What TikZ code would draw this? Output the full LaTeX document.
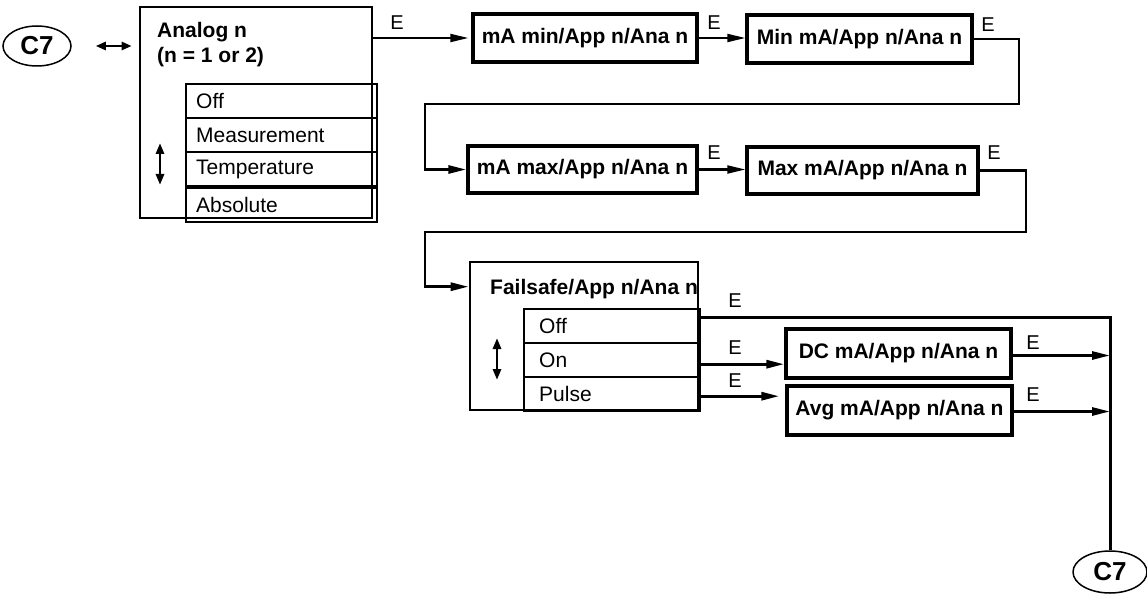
\documentclass[tikz,border=0pt]{standalone}
\usepackage{fontspec}
\setmainfont{Liberation Sans}
\usetikzlibrary{calc,arrows.meta,shapes.geometric}
\tikzset{
  frame/.style={draw, line width=2.6pt, inner sep=0pt},
  box/.style={draw, line width=3.4pt, inner sep=0pt, minimum height=48pt, font=\fontsize{21}{25}\selectfont\bfseries},
  row/.style={draw, line width=2.4pt, anchor=north west, minimum height=34pt, inner ysep=0pt, align=left, font=\fontsize{21}{25}\selectfont},
  title/.style={anchor=base west, inner sep=0pt, font=\fontsize{21}{25}\selectfont\bfseries},
  conn/.style={ellipse, draw, line width=1.5pt, inner sep=0pt, font=\fontsize{26}{30}\selectfont\bfseries},
  elab/.style={inner sep=0pt, font=\fontsize{20}{22}\selectfont},
  flow/.style={line width=2.8pt, -{Triangle[length=18pt,width=8pt]}},
  updown/.style={line width=2.8pt, {Triangle[length=11pt,width=8pt]}-{Triangle[length=11pt,width=8pt]}}
}
\begin{document}
\begin{tikzpicture}[x=1pt, y=-1pt]
\useasboundingbox (0,0) rectangle (1147,596);
\node[conn, minimum width=68pt, minimum height=40pt] (c7a) at (37,46) {C7};
\node[frame, minimum width=232pt, minimum height=211pt] (ana) at (256,112.5) {};
\node[title] (anat1) at (157,38) {Analog n}; \node[title] (anat2) at (157,63) {(n = 1 or 2)};
\node[row, text width=171pt, inner xsep=10pt] (aoff) at (185,83) {Off};
\node[row, text width=171pt, inner xsep=10pt] (ameas) at (185,117) {Measurement};
\node[row, text width=171pt, inner xsep=10pt] (atemp) at (185,151) {Temperature};
\node[row, text width=171pt, inner xsep=10pt] (aabs) at (185,187) {Absolute};
\draw[updown] (160,143) -- (160,185);
\draw[line width=2.6pt, {Triangle[length=10pt,width=8pt]}-{Triangle[length=10pt,width=8pt]}, shorten <=24pt, shorten >=7pt] (c7a.east) -- (c7a.east -| ana.west);
\node[box, minimum width=224pt] (mamin) at (585,38) {mA min/App n/Ana n};
\node[box, minimum width=225pt] (minma) at (859.5,39) {Min mA/App n/Ana n};
\node[box, minimum width=229pt, minimum height=47pt] (mamax) at (582.5,169.5) {mA max/App n/Ana n};
\node[box, minimum width=231pt, minimum height=47pt] (maxma) at (862.5,170.5) {Max mA/App n/Ana n};
\node[frame, minimum width=228pt, minimum height=148pt] (fail) at (584,336) {};
\begin{scope} \clip (fail.south west) rectangle (fail.north east); \node[title] (failt) at (490,294) {Failsafe/App n/Ana n}; \end{scope}
\node[row, text width=146pt, inner xsep=15pt] (foff) at (523,308) {Off};
\node[row, text width=146pt, inner xsep=15pt] (fon) at (523,342) {On};
\node[row, text width=146pt, inner xsep=15pt] (fpulse) at (523,376) {Pulse};
\draw[updown] (497,338) -- (497,380);
\node[box, minimum width=225pt, minimum height=49pt] (dc) at (898.5,353.5) {DC mA/App n/Ana n};
\node[box, minimum width=225pt, minimum height=49pt] (avg) at (899.5,410.5) {Avg mA/App n/Ana n};
\node[conn, minimum width=74pt, minimum height=42pt] (c7b) at (1110,572) {C7};
\coordinate (t1) at (1019,104); \coordinate (t2) at (425,104); \coordinate (t3) at (1026,232); \coordinate (t4) at (425,232);
\draw[flow, line width=2pt, shorten >=3pt] (ana.east |- mamin) -- (mamin.west); \node[elab] (e1) at (397,23) {E};
\draw[flow, line width=2.2pt] (mamin.east) -- (mamin.east -| minma.west); \node[elab] (e2) at (714,23) {E};
\draw[flow] (minma.east) -| (t1) -- (t2) |- (mamax.west); \node[elab] (e3) at (988,25) {E};
\draw[flow, line width=2.2pt] (mamax.east) -- (mamax.east -| maxma.west); \node[elab] (e4) at (714,153) {E};
\draw[flow] (maxma.east) -| (t3) -- (t4) |- ($(fail.north west)+(0,26)$); \node[elab] (e5) at (994,153) {E};
\draw[line width=3pt] ([yshift=9pt]foff.east) -| (c7b.north); \node[elab] (e6) at (735,301) {E};
\draw[flow, line width=3pt] ([yshift=-4pt]fon.east) -- ([yshift=-4pt]fon.east -| dc.west); \node[elab] (e7) at (735,348) {E};
\draw[flow, line width=3pt, shorten >=6pt] ([yshift=-2pt]fpulse.east) -- ([yshift=-2pt]fpulse.east -| avg.west); \node[elab] (e8) at (735,381) {E};
\draw[flow] ([yshift=-2pt]dc.east) -- ([yshift=-2pt]dc.east -| c7b); \node[elab] (e9) at (1033,343) {E};
\draw[flow] ([yshift=-1pt]avg.east) -- ([yshift=-1pt]avg.east -| c7b); \node[elab] (e10) at (1033,395) {E};
\end{tikzpicture}
\end{document}
